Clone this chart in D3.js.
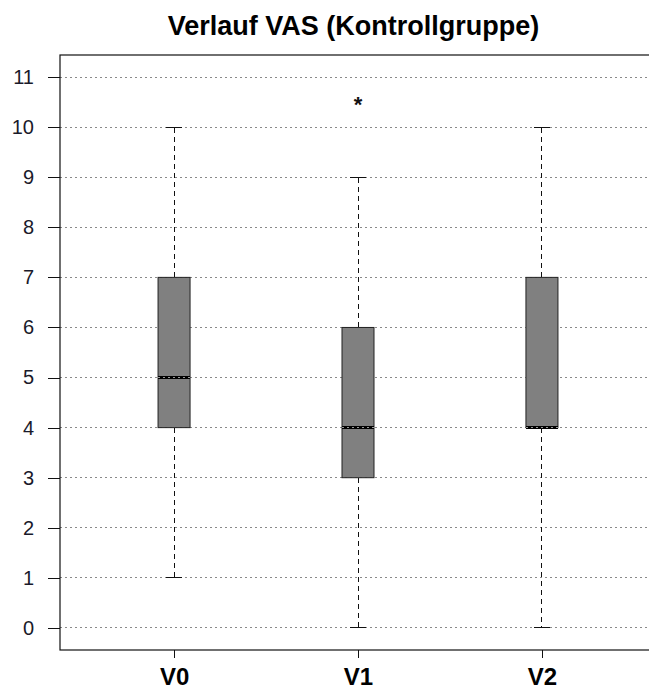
<!DOCTYPE html>
<html>
<head>
<meta charset="utf-8">
<script src="https://cdn.jsdelivr.net/npm/d3@7"></script>
<style>
  body { margin: 0; background: #fff; }
  svg { display: block; font-family: "Liberation Sans", Arial, sans-serif; }
  line { shape-rendering: crispEdges; }
</style>
</head>
<body>
<svg id="chart"></svg>
<script>
// data
var groups   = ["V0", "V1", "V2"];
var mins     = [1, 0, 0];
var q1s      = [4, 3, 4];
var medians  = [5, 4, 4];
var q3s      = [7, 6, 7];
var maxs     = [10, 9, 10];
var outliers = [[], [10.5], []];
var yTicks   = [0, 1, 2, 3, 4, 5, 6, 7, 8, 9, 10, 11];

var settings = { width: 649, height: 693 };

var svg = d3.select("#chart")
    .attr("width", settings.width)
    .attr("height", settings.height);

var plot = { left: 60, right: 656, top: 55, bottom: 650 };

// R style 4% padding round the ranges
var y = d3.scaleLinear()
    .domain([0 - 0.04 * 11, 11 + 0.04 * 11])
    .range([plot.bottom, plot.top]);

var x = d3.scaleLinear()
    .domain([0.5 - 0.12, 3.5 + 0.12])
    .range([plot.left, plot.right]);

var boxW = 0.087;    // half width, in x units
var stapleW = 0.044;

var rows = groups.map(function (g, i) {
    return { name: g, pos: i + 1, min: mins[i], q1: q1s[i], med: medians[i],
             q3: q3s[i], max: maxs[i], out: outliers[i] };
});

/* grid */
svg.append("g")
    .selectAll("line")
    .data(yTicks)
    .enter()
    .append("line")
    .attr("x1", plot.left)
    .attr("x2", plot.right)
    .attr("y1", function (d) { return y(d); })
    .attr("y2", function (d) { return y(d); })
    .attr("stroke", "#8a8a8a")
    .attr("stroke-width", 1)
    .attr("stroke-dasharray", "2,3");

var boxes = svg.append("g")
    .selectAll("g.box")
    .data(rows)
    .enter()
    .append("g")
    .attr("class", "box");

// whiskers
boxes.append("line")
    .attr("x1", function (d) { return x(d.pos); })
    .attr("x2", function (d) { return x(d.pos); })
    .attr("y1", function (d) { return y(d.q3); })
    .attr("y2", function (d) { return y(d.max); })
    .attr("stroke", "#111")
    .attr("stroke-dasharray", "5,4");

boxes.append("line")
    .attr("x1", function (d) { return x(d.pos); })
    .attr("x2", function (d) { return x(d.pos); })
    .attr("y1", function (d) { return y(d.q1); })
    .attr("y2", function (d) { return y(d.min); })
    .attr("stroke", "#111")
    .attr("stroke-dasharray", "5,4");

// staples
["min", "max"].forEach(function (k) {
    boxes.append("line")
        .attr("x1", function (d) { return x(d.pos - stapleW); })
        .attr("x2", function (d) { return x(d.pos + stapleW); })
        .attr("y1", function (d) { return y(d[k]); })
        .attr("y2", function (d) { return y(d[k]); })
        .attr("stroke", "#111");
});

// box
boxes.append("rect")
    .attr("x", function (d) { return x(d.pos - boxW); })
    .attr("width", function (d) { return x(d.pos + boxW) - x(d.pos - boxW); })
    .attr("y", function (d) { return y(d.q3); })
    .attr("height", function (d) { return y(d.q1) - y(d.q3); })
    .attr("fill", "#808080")
    .attr("stroke", "#222")
    .attr("stroke-width", 1);

// median
boxes.append("line")
    .attr("x1", function (d) { return x(d.pos - boxW); })
    .attr("x2", function (d) { return x(d.pos + boxW); })
    .attr("y1", function (d) { return y(d.med); })
    .attr("y2", function (d) { return y(d.med); })
    .attr("stroke", "#000")
    .attr("stroke-width", 3);

// the dotted grid shows through the median line
boxes.append("line")
    .attr("x1", function (d) { return x(d.pos - boxW); })
    .attr("x2", function (d) { return x(d.pos + boxW); })
    .attr("y1", function (d) { return y(d.med); })
    .attr("y2", function (d) { return y(d.med); })
    .attr("stroke", "#9a9a9a")
    .attr("stroke-width", 1)
    .attr("stroke-dasharray", "2,3");

// outliers
boxes.selectAll("text.out")
    .data(function (d) { return d.out.map(function (v) { return { pos: d.pos, v: v }; }); })
    .enter()
    .append("text")
    .attr("class", "out")
    .attr("x", function (d) { return x(d.pos); })
    .attr("y", function (d) { return y(d.v) + 10; })
    .attr("text-anchor", "middle")
    .attr("font-size", "22px")
    .attr("font-weight", "bold")
    .attr("fill", "#111")
    .text("*");

/* axes */
var yAxis = svg.append("g")
    .attr("transform", "translate(" + plot.left + ",0)")
    .call(d3.axisLeft(y).tickValues(yTicks).tickSize(12).tickPadding(14).tickSizeOuter(0));
yAxis.select(".domain").remove();
yAxis.selectAll("line").attr("stroke", "#111");
yAxis.selectAll("text")
    .attr("font-size", "20px")
    .attr("font-family", "Liberation Sans, Arial, sans-serif")
    .attr("fill", "#1a1a2a");

var xAxis = svg.append("g")
    .attr("transform", "translate(0," + plot.bottom + ")")
    .call(d3.axisBottom(x).tickValues(rows.map(function (d) { return d.pos; }))
        .tickFormat(function (d, i) { return groups[i]; })
        .tickSize(8).tickSizeOuter(0));
xAxis.select(".domain").remove();
xAxis.selectAll("line").attr("stroke", "#111");
xAxis.selectAll("text")
    .attr("y", 35)
    .attr("dy", null)
    .attr("font-size", "24px")
    .attr("font-weight", "bold")
    .attr("font-family", "Liberation Sans, Arial, sans-serif")
    .attr("fill", "#000");

// plot frame
svg.append("rect")
    .attr("x", plot.left)
    .attr("y", plot.top)
    .attr("width", plot.right - plot.left)
    .attr("height", plot.bottom - plot.top)
    .attr("fill", "none")
    .attr("stroke", "#111")
    .attr("stroke-width", 1.2);

// title
svg.append("text")
    .attr("x", 353.5)
    .attr("y", 35)
    .attr("text-anchor", "middle")
    .attr("font-size", "27px")
    .attr("font-weight", "bold")
    .attr("fill", "#000")
    .text("Verlauf VAS (Kontrollgruppe)");
</script>
</body>
</html>
